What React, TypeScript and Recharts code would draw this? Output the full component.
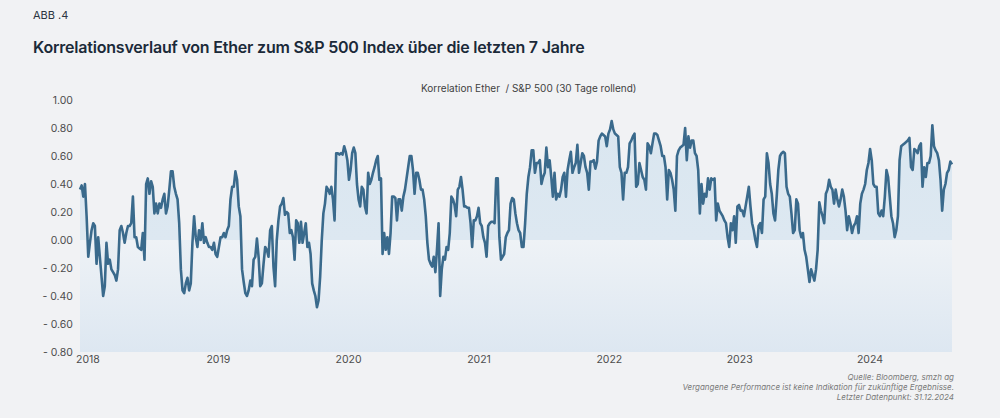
import {
  ComposedChart,
  Area,
  Line,
  XAxis,
  YAxis,
  ReferenceArea,
} from "recharts";

// 30-day rolling correlation Ether / S&P 500
// Dec 2017 - mid 2019
const corrPeriod1 = [
  0.36, 0.39, 0.31, 0.4, 0.17, -0.12, -0.02, 0.07, 0.12, 0.1, -0.17, 0.02, -0.12, -0.26, -0.4, -0.33,
  -0.02, -0.17, -0.14, -0.21, -0.23, -0.25, -0.29, -0.21, 0.07, 0.1, 0.05, -0.02, 0.05, 0.1, 0.1, 0.12,
  0.31, 0.02, 0.02, -0.05, -0.06, -0.07, 0.05, -0.14, 0.4, 0.44, 0.33, 0.42, 0.38, 0.19, 0.26, 0.19,
  0.26, 0.23, 0.29, 0.33, 0.19, 0.24, 0.36, 0.49, 0.49, 0.38, 0.33, 0.29, 0.12, -0.21, -0.36, -0.38,
  -0.31, -0.27, -0.36, -0.31, -0.02, 0.17, 0.02, -0.05, 0.07, 0.0, 0.12, -0.02, 0.02, -0.02, -0.05,
  -0.05, -0.07, -0.02, -0.1, -0.12, -0.05, 0.02, 0.02, 0.05, 0.02, 0.07, 0.1, 0.29, 0.38, 0.38, 0.49,
  0.43, 0.24, 0.17, -0.21, -0.3, -0.38, -0.4, -0.36, -0.29, -0.33, -0.14, -0.12, 0.01, -0.12, -0.33,
  -0.31, -0.17, -0.05, -0.07, -0.12, 0.07, 0.1, -0.19, -0.33, 0.0, 0.14, 0.24,
];
// mid 2019 - spring 2021
const corrPeriod2 = [
  0.26, 0.3, 0.18, 0.2, 0.19, 0.05, 0.07, 0.02, -0.14, 0.14, 0.12, -0.02, 0.13, -0.02, 0.05, 0.12,
  -0.05, -0.02, -0.1, -0.31, -0.36, -0.4, -0.48, -0.43, -0.26, 0.0, 0.19, 0.26, 0.38, 0.36, 0.33, 0.38,
  0.29, 0.14, 0.62, 0.62, 0.61, 0.62, 0.61, 0.67, 0.63, 0.57, 0.43, 0.5, 0.62, 0.66, 0.62, 0.4, 0.29,
  0.24, 0.38, 0.36, 0.24, 0.19, 0.48, 0.4, 0.43, 0.48, 0.52, 0.57, 0.6, 0.43, 0.44, -0.1, 0.05, -0.07,
  0.02, -0.1, 0.05, 0.31, 0.31, 0.3, 0.14, 0.29, 0.29, 0.21, 0.31, 0.36, 0.44, 0.52, 0.6, 0.6, 0.5,
  0.33, 0.48, 0.48, 0.43, 0.36, 0.36, 0.29, 0.17, -0.02, -0.14, -0.17, -0.19, -0.12, -0.23, -0.07, 0.12,
  -0.4, -0.21, -0.12, -0.14, -0.05, -0.07, 0.05, 0.31, 0.29, 0.25, 0.17, 0.36, 0.38, 0.45, 0.36, 0.24,
  0.24, 0.23, 0.23, 0.12, -0.05, 0.14, 0.14, 0.17, 0.23, 0.12, 0.1, 0.02, -0.02, -0.12, 0.1, 0.12, 0.13,
  0.13, 0.12, 0.44, 0.44, 0.02, -0.14, -0.12, -0.1, 0.02, 0.05, 0.07, 0.26, 0.3, 0.29, 0.19, 0.12, 0.07,
  0.05,
];
// spring 2021 - early 2023
const corrPeriod3 = [
  -0.05, -0.05, 0.12, 0.33, 0.45, 0.52, 0.64, 0.64, 0.48, 0.55, 0.55, 0.57, 0.4, 0.45, 0.48, 0.66, 0.52,
  0.57, 0.45, 0.31, 0.48, 0.29, 0.33, 0.31, 0.36, 0.45, 0.48, 0.31, 0.5, 0.57, 0.63, 0.48, 0.52, 0.55,
  0.68, 0.48, 0.55, 0.62, 0.6, 0.52, 0.48, 0.36, 0.56, 0.56, 0.57, 0.51, 0.56, 0.71, 0.74, 0.76, 0.75,
  0.74, 0.67, 0.76, 0.79, 0.85, 0.79, 0.76, 0.75, 0.74, 0.52, 0.48, 0.29, 0.48, 0.48, 0.52, 0.69, 0.71,
  0.74, 0.76, 0.38, 0.4, 0.55, 0.5, 0.45, 0.43, 0.36, 0.69, 0.67, 0.62, 0.69, 0.76, 0.76, 0.75, 0.71,
  0.67, 0.6, 0.6, 0.52, 0.29, 0.5, 0.48, 0.43, 0.36, 0.21, 0.6, 0.64, 0.66, 0.67, 0.68, 0.8, 0.57, 0.74,
  0.66, 0.71, 0.71, 0.62, 0.6, 0.5, 0.19, 0.4, 0.26, 0.33, 0.31, 0.44, 0.36, 0.44, 0.43, 0.44, 0.14,
  0.26, 0.21, 0.19, 0.17, 0.14, 0.12, 0.02, -0.05, 0.12, 0.07, 0.17, -0.02, 0.24, 0.25, 0.21, 0.21, 0.17,
  0.24, 0.31, 0.38, 0.24, 0.12, 0.07, 0.0, -0.05, 0.1, 0.12,
];
// early 2023 - end 2024
const corrPeriod4 = [
  0.05, 0.29, 0.31, 0.62, 0.55, 0.4, 0.33, 0.19, 0.14, 0.31, 0.5, 0.6, 0.62, 0.63, 0.62, 0.38, 0.33,
  0.31, 0.19, 0.05, 0.07, 0.29, 0.26, 0.07, 0.02, 0.05, -0.07, -0.12, -0.21, -0.3, -0.21, -0.25, -0.29,
  -0.21, -0.07, 0.27, 0.21, 0.17, 0.12, 0.33, 0.36, 0.43, 0.38, 0.36, 0.26, 0.36, 0.29, 0.24, 0.29,
  0.36, 0.31, 0.21, 0.07, 0.17, 0.12, 0.05, 0.1, 0.12, 0.17, 0.05, 0.26, 0.33, 0.36, 0.4, 0.5, 0.55,
  0.65, 0.57, 0.4, 0.38, 0.38, 0.19, 0.17, 0.21, 0.17, 0.31, 0.5, 0.45, 0.31, 0.17, 0.12, 0.02, 0.07,
  0.17, 0.57, 0.67, 0.68, 0.69, 0.7, 0.71, 0.73, 0.52, 0.5, 0.65, 0.64, 0.62, 0.67, 0.69, 0.38, 0.52,
  0.45, 0.55, 0.55, 0.6, 0.82, 0.67, 0.64, 0.62, 0.57, 0.43, 0.21, 0.36, 0.4, 0.48, 0.5, 0.56, 0.54,
];

// time span (decimal years) covered by each block above
const periodSpans = [
  [2017.939, 2019.474],
  [2019.487, 2021.316],
  [2021.329, 2023.158],
  [2023.171, 2024.629],
];
const periods = [corrPeriod1, corrPeriod2, corrPeriod3, corrPeriod4];

const yearTicks = [2018, 2019, 2020, 2021, 2022, 2023, 2024];
const valueTicks = [-0.8, -0.6, -0.4, -0.2, 0, 0.2, 0.4, 0.6, 0.8, 1.0];

const FONT = "Inter, 'Open Sans', Lato, sans-serif";
const LINE = "#3a6a8c";

function buildData() {
  const rows: { t: number; v: number }[] = [];
  periods.forEach((vals, p) => {
    const [a, b] = periodSpans[p];
    vals.forEach((v, i) => {
      rows.push({ t: a + ((b - a) * i) / (vals.length - 1), v });
    });
  });
  return rows;
}

const fmtValue = (v: number) =>
  v < 0 ? `- ${Math.abs(v).toFixed(2)}` : v.toFixed(2);

export default function App() {
  const data = buildData();

  return (
    <div
      style={{
        position: "absolute",
        left: 0,
        top: 0,
        width: 1000,
        height: 418,
        background: "#f1f2f4",
        fontFamily: FONT,
        overflow: "hidden",
      }}
    >
      <div style={{ position: "absolute", left: 0, top: 0 }}>
        <ComposedChart
          width={1000}
          height={418}
          data={data}
          margin={{ top: 100, right: 48, bottom: 36, left: 35 }}
        >
          <defs>
            <linearGradient id="belowZero" x1="0" y1="0" x2="0" y2="1">
              <stop offset="0%" stopColor="#eef2f6" />
              <stop offset="100%" stopColor="#dde7f1" />
            </linearGradient>
            <linearGradient
              id="posFill"
              gradientUnits="userSpaceOnUse"
              x1="0"
              y1="100"
              x2="0"
              y2="352"
            >
              <stop offset="0" stopColor="#d9e6f0" />
              <stop offset="0.5556" stopColor="#dde8f1" />
              <stop offset="0.5556" stopColor="#dde8f1" stopOpacity={0.35} />
              <stop offset="1" stopColor="#dde8f1" stopOpacity={0.35} />
            </linearGradient>
          </defs>
          <ReferenceArea y1={-0.8} y2={0} fill="url(#belowZero)" fillOpacity={1} stroke="none" />
          <XAxis
            dataKey="t"
            type="number"
            domain={[2017.939, 2024.629]}
            ticks={yearTicks}
            tickFormatter={(v) => String(Math.round(v))}
            axisLine={false}
            tickLine={false}
            tickSize={0}
            tickMargin={4}
            height={30}
            tick={{ fill: "#4d4d4d", fontSize: 10.5, fontFamily: FONT }}
          />
          <YAxis
            type="number"
            domain={[-0.8, 1.0]}
            ticks={valueTicks}
            tickFormatter={fmtValue}
            axisLine={false}
            tickLine={false}
            tickSize={0}
            tickMargin={7}
            width={45}
            interval={0}
            tick={{ fill: "#4d4d4d", fontSize: 10.5, fontFamily: FONT }}
          />
          <Area
            type="linear"
            dataKey="v"
            baseValue={0}
            stroke="none"
            fill="url(#posFill)"
            fillOpacity={1}
            isAnimationActive={false}
          />
          <Line
            type="linear"
            dataKey="v"
            stroke={LINE}
            strokeWidth={2.6}
            dot={false}
            activeDot={false}
            strokeLinejoin="round"
            isAnimationActive={false}
          />
        </ComposedChart>
      </div>

      <div style={{ position: "absolute", left: 33, top: 8, fontSize: 11, color: "#2b3541" }}>
        ABB .4
      </div>
      <div
        style={{
          position: "absolute",
          left: 33,
          top: 37,
          fontSize: 16,
          fontWeight: 600,
          color: "#1b2a39",
          letterSpacing: -0.2,
          whiteSpace: "nowrap",
        }}
      >
        Korrelationsverlauf von Ether zum S&amp;P 500 Index über die letzten 7 Jahre
      </div>
      <div
        style={{
          position: "absolute",
          left: 421,
          top: 82,
          fontSize: 10,
          color: "#3f3f3f",
          whiteSpace: "pre",
        }}
      >
        {"Korrelation Ether  / S&P 500 (30 Tage rollend)"}
      </div>
      <div
        style={{
          position: "absolute",
          right: 46,
          top: 372,
          fontSize: 8,
          lineHeight: "10px",
          fontStyle: "italic",
          color: "#7a7a7a",
          textAlign: "right",
          whiteSpace: "nowrap",
        }}
      >
        <div>Quelle: Bloomberg, smzh ag</div>
        <div>Vergangene Performance ist keine Indikation für zukünftige Ergebnisse.</div>
        <div>Letzter Datenpunkt: 31.12.2024</div>
      </div>
    </div>
  );
}
